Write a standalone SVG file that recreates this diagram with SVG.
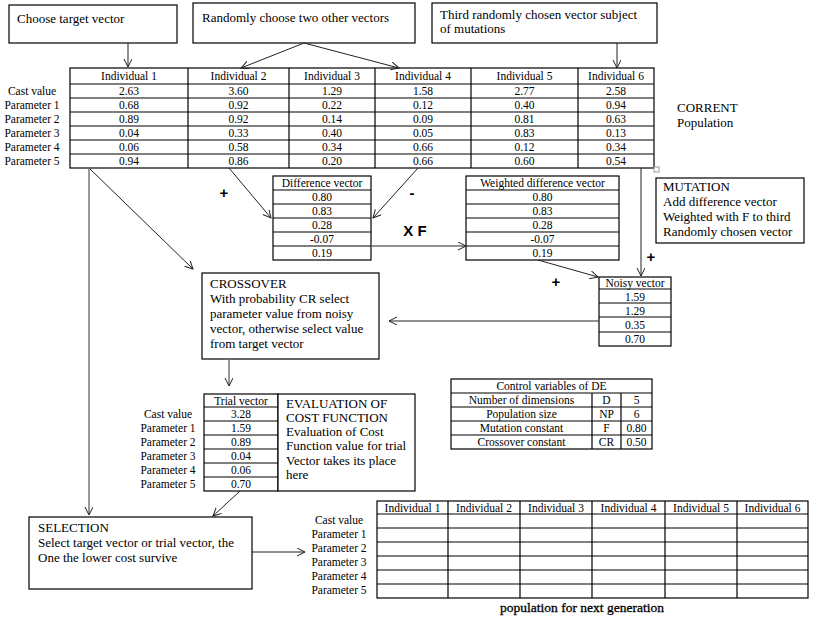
<svg xmlns="http://www.w3.org/2000/svg" width="814" height="618" viewBox="0 0 814 618">
<defs>
<style>
text{font-family:"Liberation Serif","Times New Roman",serif;fill:#000}
.t{font-size:11.5px}
.c{text-anchor:middle}
.b{font-size:13px}
.box{fill:#fff;stroke:#000;stroke-width:1.2}
.grid{fill:none;stroke:#000;stroke-width:1.2}
.con{fill:none;stroke:#222;stroke-width:1}
.gray{stroke:#777;stroke-width:1.5}
.sym{font-family:"Liberation Sans",Arial,sans-serif;font-weight:bold;font-size:15px}
</style>
<marker id="ah" markerWidth="10" markerHeight="10" refX="8" refY="4" orient="auto" markerUnits="userSpaceOnUse">
<path d="M0,0 L8,4 L0,8" fill="none" stroke="#222" stroke-width="1"/>
</marker>
</defs>
<rect width="814" height="618" fill="#fff"/>

<g id="box-target">
<rect class="box" x="9" y="5" width="168" height="38"/>
<text class="b" x="17" y="23">Choose target vector</text>
</g>
<g id="box-random">
<rect class="box" x="193" y="3" width="222" height="40"/>
<text class="b" x="202" y="22">Randomly choose two other vectors</text>
</g>
<g id="box-third">
<rect class="box" x="432" y="3" width="225" height="40"/>
<text class="b" x="440" y="19">Third randomly chosen vector subject</text>
<text class="b" x="440" y="33">of mutations</text>
</g>

<g id="current-population">
<rect class="grid" x="70" y="68" width="584" height="100"/>
<path class="grid" d="M70,84H654M70,98H654M70,112H654M70,126H654M70,140H654M70,154H654M188,68V168M289,68V168M375,68V168M471,68V168M578,68V168"/>
<g class="t c">
<text x="129" y="80">Individual 1</text><text x="238.5" y="80">Individual 2</text><text x="332" y="80">Individual 3</text><text x="423" y="80">Individual 4</text><text x="524.5" y="80">Individual 5</text><text x="616" y="80">Individual 6</text>
<text x="32" y="95">Cast value</text><text x="32" y="109">Parameter 1</text><text x="32" y="123">Parameter 2</text><text x="32" y="137">Parameter 3</text><text x="32" y="151">Parameter 4</text><text x="32" y="165">Parameter 5</text>
<text x="129" y="95">2.63</text><text x="238.5" y="95">3.60</text><text x="332" y="95">1.29</text><text x="423" y="95">1.58</text><text x="524.5" y="95">2.77</text><text x="616" y="95">2.58</text>
<text x="129" y="109">0.68</text><text x="238.5" y="109">0.92</text><text x="332" y="109">0.22</text><text x="423" y="109">0.12</text><text x="524.5" y="109">0.40</text><text x="616" y="109">0.94</text>
<text x="129" y="123">0.89</text><text x="238.5" y="123">0.92</text><text x="332" y="123">0.14</text><text x="423" y="123">0.09</text><text x="524.5" y="123">0.81</text><text x="616" y="123">0.63</text>
<text x="129" y="137">0.04</text><text x="238.5" y="137">0.33</text><text x="332" y="137">0.40</text><text x="423" y="137">0.05</text><text x="524.5" y="137">0.83</text><text x="616" y="137">0.13</text>
<text x="129" y="151">0.06</text><text x="238.5" y="151">0.58</text><text x="332" y="151">0.34</text><text x="423" y="151">0.66</text><text x="524.5" y="151">0.12</text><text x="616" y="151">0.34</text>
<text x="129" y="165">0.94</text><text x="238.5" y="165">0.86</text><text x="332" y="165">0.20</text><text x="423" y="165">0.66</text><text x="524.5" y="165">0.60</text><text x="616" y="165">0.54</text>
</g>
<rect x="654" y="167" width="5" height="5" fill="#fff" stroke="#999" stroke-width="1"/>
</g>

<g id="label-current">
<text class="b" x="677" y="112">CORRENT</text>
<text class="b" x="677" y="127">Population</text>
</g>

<g id="difference-vector">
<rect class="grid" x="273" y="176" width="98" height="84"/>
<path class="grid" d="M273,190H371M273,204H371M273,218H371M273,232H371M273,246H371"/>
<g class="t c">
<text x="322" y="187">Difference vector</text><text x="322" y="201">0.80</text><text x="322" y="215">0.83</text><text x="322" y="229">0.28</text><text x="322" y="243">-0.07</text><text x="322" y="257">0.19</text>
</g>
</g>

<g id="weighted-difference-vector">
<rect class="grid" x="466" y="176" width="153" height="84"/>
<path class="grid" d="M466,190H619M466,204H619M466,218H619M466,232H619M466,246H619"/>
<g class="t c">
<text x="542.5" y="187">Weighted difference vector</text><text x="542.5" y="201">0.80</text><text x="542.5" y="215">0.83</text><text x="542.5" y="229">0.28</text><text x="542.5" y="243">-0.07</text><text x="542.5" y="257">0.19</text>
</g>
</g>

<g id="mutation">
<rect class="box" x="656" y="178" width="148" height="65"/>
<text class="b" x="663" y="191">MUTATION</text>
<text class="b" x="663" y="206">Add difference vector</text>
<text class="b" x="663" y="221">Weighted with F to third</text>
<text class="b" x="663" y="236">Randomly chosen vector</text>
</g>

<g id="noisy-vector">
<rect class="grid" x="599" y="277" width="72" height="69"/>
<path class="grid" d="M599,289H671M599,303H671M599,317H671M599,332H671"/>
<g class="t c">
<text x="635" y="287">Noisy vector</text><text x="635" y="301">1.59</text><text x="635" y="315">1.29</text><text x="635" y="329">0.35</text><text x="635" y="343">0.70</text>
</g>
</g>

<g id="crossover">
<rect class="box" x="202" y="273" width="177" height="86"/>
<text class="b" x="210" y="288">CROSSOVER</text>
<text class="b" x="210" y="303">With probability CR select</text>
<text class="b" x="210" y="318">parameter value from noisy</text>
<text class="b" x="210" y="333">vector, otherwise select value</text>
<text class="b" x="210" y="348">from target vector</text>
</g>

<g id="control-variables">
<rect class="grid" x="451" y="379" width="201" height="70"/>
<path class="grid" d="M451,393H652M451,407H652M451,421H652M451,435H652M592,393V449M621,393V449"/>
<g class="t c">
<text x="551.5" y="390">Control variables of DE</text>
<text x="521.5" y="404">Number of dimensions</text><text x="606.5" y="404">D</text><text x="636.5" y="404">5</text>
<text x="521.5" y="418">Population size</text><text x="606.5" y="418">NP</text><text x="636.5" y="418">6</text>
<text x="521.5" y="432">Mutation constant</text><text x="606.5" y="432">F</text><text x="636.5" y="432">0.80</text>
<text x="521.5" y="446">Crossover constant</text><text x="606.5" y="446">CR</text><text x="636.5" y="446">0.50</text>
</g>
</g>

<g id="trial-vector">
<rect class="grid" x="204" y="394" width="74" height="97"/>
<path class="grid" d="M204,407H278M204,421H278M204,435H278M204,449H278M204,463H278M204,477H278"/>
<g class="t c">
<text x="241" y="405">Trial vector</text><text x="241" y="418">3.28</text><text x="241" y="432">1.59</text><text x="241" y="446">0.89</text><text x="241" y="460">0.04</text><text x="241" y="474">0.06</text><text x="241" y="488">0.70</text>
<text x="168" y="418">Cast value</text><text x="168" y="432">Parameter 1</text><text x="168" y="446">Parameter 2</text><text x="168" y="460">Parameter 3</text><text x="168" y="474">Parameter 4</text><text x="168" y="488">Parameter 5</text>
</g>
</g>

<g id="evaluation">
<rect class="box" x="278" y="394" width="137" height="97"/>
<text class="b" x="286" y="408">EVALUATION OF</text>
<text class="b" x="286" y="422">COST FUNCTION</text>
<text class="b" x="286" y="436">Evaluation of Cost</text>
<text class="b" x="286" y="450">Function value for trial</text>
<text class="b" x="286" y="465">Vector takes its place</text>
<text class="b" x="286" y="479">here</text>
</g>

<g id="selection">
<rect class="box" x="29" y="517" width="223" height="72"/>
<text class="b" x="38" y="532">SELECTION</text>
<text class="b" x="38" y="547">Select target vector or trial vector, the</text>
<text class="b" x="38" y="562">One the lower cost survive</text>
</g>

<g id="next-population">
<rect class="grid" x="377" y="501" width="431" height="97"/>
<path class="grid" d="M377,514H808M377,528H808M377,542H808M377,556H808M377,570H808M377,584H808M448,501V598M520,501V598M592,501V598M665,501V598M737,501V598"/>
<g class="t c">
<text x="412.5" y="512">Individual 1</text><text x="484" y="512">Individual 2</text><text x="556" y="512">Individual 3</text><text x="628.5" y="512">Individual 4</text><text x="701" y="512">Individual 5</text><text x="772.5" y="512">Individual 6</text>
<text x="339" y="524">Cast value</text><text x="339" y="538">Parameter 1</text><text x="339" y="552">Parameter 2</text><text x="339" y="566">Parameter 3</text><text x="339" y="580">Parameter 4</text><text x="339" y="594">Parameter 5</text>
</g>
<text class="c" x="582" y="612" font-size="13.5" stroke="#000" stroke-width="0.3">population for next generation</text>
</g>

<g id="connectors">
<path class="con" d="M128,43V67" marker-end="url(#ah)"/>
<path class="con" d="M304,43L241,68" marker-end="url(#ah)"/>
<path class="con" d="M304,43L399,68" marker-end="url(#ah)"/>
<path class="con" d="M617,43V68" marker-end="url(#ah)"/>
<path class="con" d="M229,168L271,218" marker-end="url(#ah)"/>
<path class="con" d="M418,168L373,218" marker-end="url(#ah)"/>
<path class="con" d="M372,246H466" marker-end="url(#ah)"/>
<path class="con" d="M538,260L598,277" marker-end="url(#ah)"/>
<path class="con" d="M641,168V276" marker-end="url(#ah)"/>
<path class="con" d="M599,321H389" marker-end="url(#ah)"/>
<path class="con" d="M89,168L193,269" marker-end="url(#ah)"/>
<path class="con gray" d="M89,168V515" marker-end="url(#ah)"/>
<path class="con gray" d="M229,359V386" marker-end="url(#ah)"/>
<path class="con" d="M240,491L213,516" marker-end="url(#ah)"/>
<path class="con" d="M252,552H305" marker-end="url(#ah)"/>
</g>

<g id="operator-labels">
<text class="sym" x="224" y="198" text-anchor="middle">+</text>
<text class="sym" x="412" y="198" text-anchor="middle">-</text>
<text class="sym" x="415" y="236" text-anchor="middle">X F</text>
<text class="sym" x="556" y="287" text-anchor="middle">+</text>
<text class="sym" x="651" y="262" text-anchor="middle">+</text>
</g>
</svg>
